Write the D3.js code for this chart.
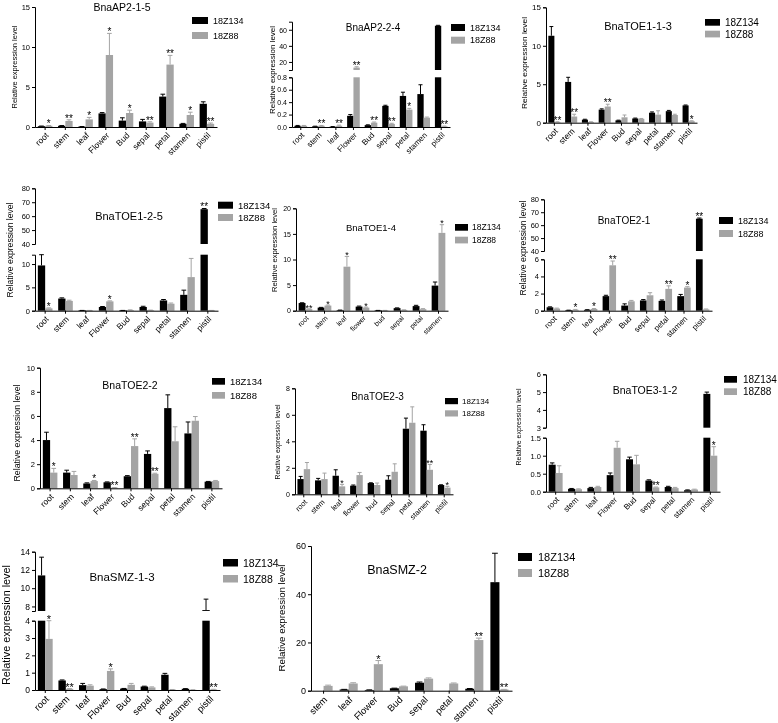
<!DOCTYPE html>
<html><head><meta charset="utf-8">
<script src="https://cdn.jsdelivr.net/npm/d3@7"></script>
<style>body{margin:0;background:#fff} svg{will-change:transform} svg text{font-family:"Liberation Sans",Arial,sans-serif;fill:#000}</style>
</head><body><svg id="c" width="778" height="723"></svg>
<script>
// ---------------- DATA ----------------
const seriesNames = ["18Z134", "18Z88"];
const catsA = ["root","stem","leaf","Flower","Bud","sepal","petal","stamen","pistil"];
const catsB = ["root","stem","leaf","flower","bud","sepal","petal","stamen","pistil"];
const catsC = ["root","stem","leaf","flower","bud","sepal","petal","stamen"];
const catsD = ["stem","leaf","Flower","Bud","sepal","petal","stamen","pistil"];

// BnaAP2-1-5
const ap215_a  = [0.1,0.15,0.05,1.7,0.8,0.7,3.8,0.4,2.9];
const ap215_ae = [0.02,0.03,0.01,0.1,0.35,0.25,0.3,0.05,0.25];
const ap215_b  = [0.15,0.75,0.95,9.0,1.75,0.55,7.8,1.5,0.4];
const ap215_be = [0.03,0.15,0.25,2.7,0.35,0.1,1.15,0.35,0.1];
const ap215_as = ["","","","","","","","",""];
const ap215_bs = ["*","**","*","*","*","**","**","*","**"];
const ap215_ticks = [0,5,10,15];

// BnaAP2-2-4
const ap224_a  = [0.02,0.01,0.005,0.18,0.03,0.34,0.5,0.53,65];
const ap224_ae = [0.005,0.003,0.002,0.02,0.005,0.01,0.06,0.15,0.5];
const ap224_b  = [0.02,0.02,0.02,13,0.07,0.05,0.28,0.15,0.01];
const ap224_be = [0.005,0.005,0.01,1,0.01,0.01,0.02,0.01,0.005];
const ap224_as = ["","","","","","","","",""];
const ap224_bs = ["","**","**","**","**","**","*","","**"];
const ap224_ticksLow = [0,0.2,0.4,0.6,0.8];
const ap224_ticksHigh = [20,40,60];

// BnaTOE1-1-3
const toe113_a  = [11.3,5.3,0.4,1.7,0.3,0.55,1.3,1.5,2.25];
const toe113_ae = [1.2,0.6,0.05,0.1,0.03,0.05,0.1,0.1,0.05];
const toe113_b  = [0.1,0.8,0.1,2.1,0.7,0.5,1.05,1.0,0.2];
const toe113_be = [0.02,0.3,0.02,0.3,0.3,0.05,0.5,0.1,0.05];
const toe113_as = ["","","","","","","","",""];
const toe113_bs = ["**","**","","**","","","","","*"];
const toe113_ticks = [0,5,10,15];

// BnaTOE1-2-5
const toe125_a  = [9.7,2.6,0.05,0.8,0.05,0.8,2.2,3.4,65];
const toe125_ae = [2.3,0.15,0.01,0.1,0.01,0.15,0.2,1.0,0.5];
const toe125_b  = [0.5,2.1,0.05,2.0,0.15,0.1,1.5,7.2,0.05];
const toe125_be = [0.1,0.15,0.01,0.1,0.03,0.02,0.15,4.0,0.01];
const toe125_as = ["","","","","","","","","**"];
const toe125_bs = ["*","","","*","","","","",""];
const toe125_ticksLow = [0,5,10];
const toe125_ticksHigh = [40,50,60,70,80];

// BnaTOE1-4
const toe14_a  = [1.5,0.6,0.1,0.8,0.05,0.5,0.9,4.9];
const toe14_ae = [0.05,0.05,0.02,0.1,0.01,0.05,0.15,0.7];
const toe14_b  = [0.3,1.0,8.6,0.6,0.05,0.15,0.3,15.2];
const toe14_be = [0.05,0.1,2.0,0.1,0.01,0.02,0.1,1.6];
const toe14_as = ["","","","","","","",""];
const toe14_bs = ["**","*","*","*","","","","*"];
const toe14_ticks = [0,5,10,15,20];

// BnaTOE2-1
const toe21_a  = [0.4,0.05,0.1,1.7,0.6,1.2,1.15,1.7,65];
const toe21_ae = [0.05,0.01,0.02,0.1,0.2,0.1,0.1,0.2,0.5];
const toe21_b  = [0.25,0.1,0.2,5.3,1.1,1.8,2.55,2.7,0.15];
const toe21_be = [0.05,0.05,0.05,0.5,0.1,0.3,0.35,0.1,0.05];
const toe21_as = ["","","","","","","","","**"];
const toe21_bs = ["","*","*","**","","","**","*",""];
const toe21_ticksLow = [0,2,4,6];
const toe21_ticksHigh = [40,50,60,70,80];

// BnaTOE2-2
const toe22_a  = [4.0,1.3,0.4,0.5,1.0,2.85,6.65,4.55,0.55];
const toe22_ae = [0.65,0.2,0.05,0.03,0.05,0.25,1.1,0.95,0.02];
const toe22_b  = [1.3,1.1,0.6,0.05,3.5,1.2,3.9,5.6,0.6];
const toe22_be = [0.35,0.3,0.05,0.01,0.6,0.05,1.2,0.35,0.05];
const toe22_as = ["","","","","","","","",""];
const toe22_bs = ["*","","*","**","**","**","","",""];
const toe22_ticks = [0,2,4,6,8,10];

// BnaTOE2-3
const toe23_a  = [1.15,1.05,1.4,0.65,0.85,1.1,4.95,4.8,0.7];
const toe23_ae = [0.2,0.15,0.45,0.05,0.02,0.3,0.8,0.45,0.02];
const toe23_b  = [1.9,1.15,0.6,1.45,0.7,1.7,5.4,1.85,0.5];
const toe23_be = [0.5,0.45,0.15,0.2,0.15,0.6,1.2,0.4,0.1];
const toe23_as = ["","","","","","","","",""];
const toe23_bs = ["","","*","","","","","**","*"];
const toe23_ticks = [0,2,4,6,8];

// BnaTOE3-1-2
const toe312_a  = [0.75,0.08,0.1,0.46,0.9,0.31,0.13,0.04,4.9];
const toe312_ae = [0.05,0.01,0.02,0.06,0.06,0.02,0.02,0.01,0.1];
const toe312_b  = [0.52,0.07,0.13,1.22,0.76,0.12,0.1,0.06,1.0];
const toe312_be = [0.2,0.01,0.02,0.18,0.25,0.01,0.02,0.01,0.25];
const toe312_as = ["","","","","","","","",""];
const toe312_bs = ["","","","","","**","","","*"];
const toe312_ticksLow = [0,0.5,1.0,1.5];
const toe312_ticksHigh = [3,4,5,6];

// BnaSMZ-1-3
const smz13_a  = [11.4,0.55,0.28,0.05,0.08,0.2,0.88,0.07,7.6];
const smz13_ae = [2.0,0.03,0.1,0.01,0.01,0.02,0.08,0.01,1.2];
const smz13_b  = [2.95,0.07,0.25,1.1,0.3,0.15,0.02,0.01,0.03];
const smz13_be = [1.05,0.01,0.05,0.12,0.08,0.03,0.01,0.005,0.01];
const smz13_as = ["","","","","","","","",""];
const smz13_bs = ["*","**","","*","","","","","**"];
const smz13_ticksLow = [0,1,2,3,4];
const smz13_ticksHigh = [8,10,12,14];

// BnaSMZ-2
const smz2_a  = [0,0.5,0.3,1.0,3.3,0,0.8,45];
const smz2_ae = [0,0.05,0.05,0.05,0.3,0,0.1,12];
const smz2_b  = [2.0,3.0,11,1.8,5.0,3.0,21,0.5];
const smz2_be = [0.3,0.3,1.5,0.1,0.3,0.2,0.8,0.05];
const smz2_as = ["","","","","","","","",""];
const smz2_bs = ["","","*","","","","**","**"];
const smz2_ticks = [0,20,40,60];

// ---------------- LAYOUT ----------------
const GRAY = "#a4a4a4";
const svg = d3.select("#c");

function drawPanel(P) {
  const g = svg.append("g");
  const x = d3.scaleBand().domain(P.cats).range([P.ax, P.xEnd]).paddingInner(0.28).paddingOuter(0.14);
  const sub = d3.scaleBand().domain([0,1]).range([0, x.bandwidth()]);
  const segs = P.segs.map(s => Object.assign({}, s, {y: d3.scaleLinear().domain(s.domain).range(s.range)}));
  const y0 = segs[0].range[0];
  const series = [
    {v:P.d[0], e:P.d[1], s:P.d[2], c:"#000"},
    {v:P.d[3], e:P.d[4], s:P.d[5], c:GRAY}
  ];
  series.forEach((S, si) => {
    P.cats.forEach((c, i) => {
      const v = S.v[i], e = S.e[i], t = v + e;
      const bw = sub.bandwidth();
      const bx = x(c) + sub(si);
      const cx = bx + bw / 2;
      segs.forEach(sg => {
        const lo = sg.domain[0], hi = sg.domain[1];
        if (v > lo) {
          const top = Math.min(v, hi);
          g.append("rect").attr("x", bx).attr("width", bw)
            .attr("y", sg.y(top)).attr("height", Math.max(0.6, sg.y(lo) - sg.y(top)))
            .attr("fill", S.c);
        }
        const a = Math.max(v, lo), b = Math.min(t, hi);
        if (e > 0 && a < b) {
          g.append("line").attr("x1", cx).attr("x2", cx).attr("y1", sg.y(a)).attr("y2", sg.y(b))
            .attr("stroke", S.c).attr("stroke-width", 1);
        }
        if (e > 0 && t >= lo && t <= hi) {
          const cw = bw * 0.32;
          g.append("line").attr("x1", cx - cw).attr("x2", cx + cw).attr("y1", sg.y(t)).attr("y2", sg.y(t))
            .attr("stroke", S.c).attr("stroke-width", 1);
        }
      });
      if (S.s[i]) {
        let sg = segs[0];
        segs.forEach(s2 => { if (t >= s2.domain[0]) sg = s2; });
        const yy = sg.y(Math.min(t, sg.domain[1]));
        g.append("text").attr("x", cx).attr("y", yy + 1.8 * P.fs.sig / 10)
          .attr("text-anchor", "middle").attr("font-size", P.fs.sig).text(S.s[i]);
      }
    });
  });
  // y axes
  segs.forEach(sg => {
    const ax = g.append("g").attr("transform", `translate(${P.ax},0)`)
      .call(d3.axisLeft(sg.y).tickValues(sg.ticks).tickSize(3).tickSizeOuter(3).tickPadding(2)
        .tickFormat(sg.fmt ? d3.format(sg.fmt) : d3.format("d")));
    ax.attr("font-family", null);
    ax.selectAll("path,line").attr("stroke", "#000").attr("stroke-width", 1);
    ax.selectAll("text").attr("font-size", P.fs.tick);
  });
  // x axis (ticks only) + rotated category labels
  const xa = g.append("g").attr("transform", `translate(0,${y0})`)
    .call(d3.axisBottom(x).tickSize(3).tickSizeOuter(0).tickFormat(() => ""));
  xa.selectAll("path,line").attr("stroke", "#000").attr("stroke-width", 1);
  const off = P.fs.cat * 0.45 + 3;
  P.cats.forEach(c => {
    const cx = x(c) + x.bandwidth() / 2;
    g.append("text")
      .attr("transform", `translate(${cx + 2},${y0 + off}) rotate(-45)`)
      .attr("text-anchor", "end").attr("dy", "0.35em")
      .attr("font-size", P.fs.cat).text(c);
  });
  // title
  g.append("text").attr("x", P.title[1]).attr("y", P.title[2]).attr("text-anchor", "middle")
    .attr("font-size", P.fs.title).text(P.title[0]);
  // legend
  [["#000", 0], [GRAY, 1]].forEach(([col, k]) => {
    const L = P.leg;
    g.append("rect").attr("x", L.x).attr("y", L.y + k * L.dy).attr("width", L.w).attr("height", L.h).attr("fill", col);
    g.append("text").attr("x", L.tx).attr("y", L.y + k * L.dy + L.h / 2).attr("dy", "0.36em")
      .attr("font-size", P.fs.leg).text(seriesNames[k]);
  });
  // y label
  const yl = g.append("text").attr("transform", `translate(${P.ylab[0]},${P.ylab[1]}) rotate(-90)`)
    .attr("text-anchor", "middle").attr("dy", "0.35em").attr("font-size", P.fs.ylab)
    .text("Relative expression level");
  if (P.ylab[2]) yl.attr("textLength", P.ylab[2]).attr("lengthAdjust", "spacingAndGlyphs");
}

const panels = [
  { cats: catsA, d: [ap215_a, ap215_ae, ap215_as, ap215_b, ap215_be, ap215_bs],
    ax: 35, xEnd: 217,
    segs: [{domain:[0,15], range:[127,7], ticks: ap215_ticks}],
    title: ["BnaAP2-1-5", 122, 11], leg: {x:192, y:17, w:16, h:7, dy:15, tx:213},
    ylab: [14, 67, 83], fs: {title:10.5, leg:9, tick:7.5, cat:8.5, ylab:7.5, sig:10} },
  { cats: catsA, d: [ap224_a, ap224_ae, ap224_as, ap224_b, ap224_be, ap224_bs],
    ax: 292, xEnd: 450,
    segs: [{domain:[0,0.8], range:[127,77.3], ticks: ap224_ticksLow, fmt:".1f"},
           {domain:[10,70], range:[70,21.7], ticks: ap224_ticksHigh}],
    title: ["BnaAP2-2-4", 373, 30.5], leg: {x:451, y:24, w:14, h:7, dy:12.7, tx:470},
    ylab: [272, 70, 88], fs: {title:10, leg:9, tick:7, cat:8, ylab:7.5, sig:10} },
  { cats: catsA, d: [toe113_a, toe113_ae, toe113_as, toe113_b, toe113_be, toe113_bs],
    ax: 546, xEnd: 697,
    segs: [{domain:[0,15], range:[122.7,7.3], ticks: toe113_ticks}],
    title: ["BnaTOE1-1-3", 638, 30], leg: {x:705, y:19, w:15, h:6.7, dy:11.7, tx:725},
    ylab: [524, 63, 92], fs: {title:11, leg:10, tick:8, cat:8.5, ylab:8, sig:10} },
  { cats: catsA, d: [toe125_a, toe125_ae, toe125_as, toe125_b, toe125_be, toe125_bs],
    ax: 35, xEnd: 218,
    segs: [{domain:[0,12], range:[310.7,254.7], ticks: toe125_ticksLow},
           {domain:[40,80], range:[244,188.3], ticks: toe125_ticksHigh}],
    title: ["BnaTOE1-2-5", 129, 220], leg: {x:218, y:201.7, w:15, h:7, dy:12.3, tx:238},
    ylab: [10, 250, 95], fs: {title:11, leg:9.5, tick:7.5, cat:8.5, ylab:8.5, sig:10} },
  { cats: catsC, d: [toe14_a, toe14_ae, toe14_as, toe14_b, toe14_be, toe14_bs],
    ax: 296, xEnd: 448,
    segs: [{domain:[0,20], range:[310.7,208.3], ticks: toe14_ticks}],
    title: ["BnaTOE1-4", 371, 231], leg: {x:455, y:224, w:13, h:6.7, dy:12.7, tx:472},
    ylab: [274, 250, 84], fs: {title:9.5, leg:8.5, tick:7, cat:7, ylab:7.6, sig:9} },
  { cats: catsA, d: [toe21_a, toe21_ae, toe21_as, toe21_b, toe21_be, toe21_bs],
    ax: 544, xEnd: 712,
    segs: [{domain:[0,6], range:[310.7,259.3], ticks: toe21_ticksLow},
           {domain:[40,80], range:[251,199.3], ticks: toe21_ticksHigh}],
    title: ["BnaTOE2-1", 624, 224], leg: {x:719, y:217, w:14, h:7, dy:13, tx:738},
    ylab: [523, 248, 95], fs: {title:10, leg:9, tick:7.5, cat:8, ylab:8.5, sig:10} },
  { cats: catsA, d: [toe22_a, toe22_ae, toe22_as, toe22_b, toe22_be, toe22_bs],
    ax: 40, xEnd: 222,
    segs: [{domain:[0,10], range:[488.3,367.7], ticks: toe22_ticks}],
    title: ["BnaTOE2-2", 130, 388.5], leg: {x:212, y:378, w:13, h:6.7, dy:14, tx:230},
    ylab: [17, 433, 97], fs: {title:10.5, leg:9.5, tick:7.5, cat:8.5, ylab:8.8, sig:10} },
  { cats: catsB, d: [toe23_a, toe23_ae, toe23_as, toe23_b, toe23_be, toe23_bs],
    ax: 295, xEnd: 453,
    segs: [{domain:[0,8], range:[494.3,388.3], ticks: toe23_ticks}],
    title: ["BnaTOE2-3", 377.5, 400], leg: {x:445, y:398, w:13, h:6.2, dy:12.3, tx:462},
    ylab: [278, 442, 75], fs: {title:10, leg:8, tick:7, cat:7.5, ylab:7, sig:9} },
  { cats: catsA, d: [toe312_a, toe312_ae, toe312_as, toe312_b, toe312_be, toe312_bs],
    ax: 546, xEnd: 720,
    segs: [{domain:[0,1.5], range:[491.7,437.7], ticks: toe312_ticksLow, fmt:".1f"},
           {domain:[3,6], range:[427.7,374.3], ticks: toe312_ticksHigh}],
    title: ["BnaTOE3-1-2", 645, 393.5], leg: {x:724, y:376, w:13, h:6.7, dy:12.3, tx:743},
    ylab: [519, 427, 77], fs: {title:10.5, leg:10, tick:7.5, cat:8, ylab:7, sig:10} },
  { cats: catsA, d: [smz13_a, smz13_ae, smz13_as, smz13_b, smz13_be, smz13_bs],
    ax: 35, xEnd: 220,
    segs: [{domain:[0,4], range:[690,620.7], ticks: smz13_ticksLow},
           {domain:[7.5,14], range:[611,551.7], ticks: smz13_ticksHigh}],
    title: ["BnaSMZ-1-3", 122, 580.5], leg: {x:223, y:559, w:15, h:7.5, dy:16, tx:243},
    ylab: [6, 625, 120], fs: {title:11.5, leg:10.5, tick:8.5, cat:9.5, ylab:10.5, sig:11} },
  { cats: catsD, d: [smz2_a, smz2_ae, smz2_as, smz2_b, smz2_be, smz2_bs],
    ax: 311, xEnd: 512,
    segs: [{domain:[0,60], range:[690.7,546], ticks: smz2_ticks}],
    title: ["BnaSMZ-2", 397, 574], leg: {x:518, y:553, w:14, h:8, dy:16, tx:538},
    ylab: [282, 618, 107], fs: {title:12.5, leg:11, tick:9, cat:9.5, ylab:9.5, sig:11} }
];
panels.forEach(drawPanel);
</script></body></html>
